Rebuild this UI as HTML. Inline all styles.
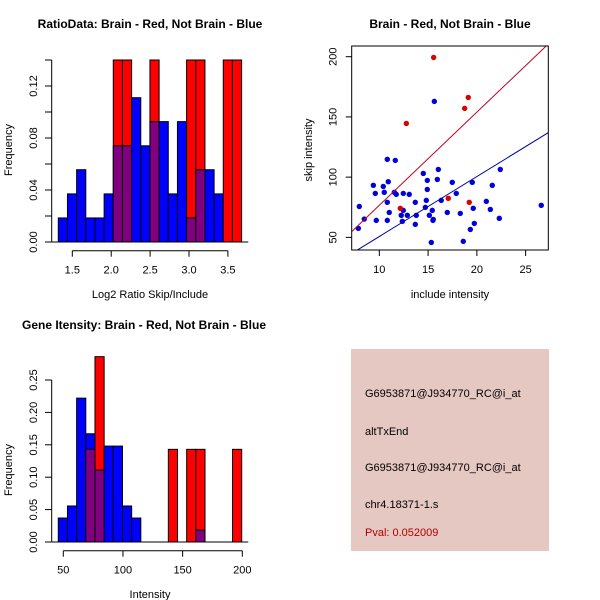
<!DOCTYPE html>
<html><head><meta charset="utf-8"><style>
body{margin:0;background:#fff;}
svg{display:block;font-family:"Liberation Sans",sans-serif;}
</style></head><body>
<svg id="c" width="600" height="600" xmlns="http://www.w3.org/2000/svg"></svg>
<script>
// ---- Data: ratio histogram (20 bins)
const ratioBinStart = 1.32;
const ratioBinWidth = 0.1178;
const ratioBlue = [0.0185,0.037,0.0556,0.0185,0.0185,0.037,0.074,0.074,0.111,0.074,0.0926,0.0926,0.037,0.0926,0.0185,0.0556,0.0556,0.037,0,0];
const ratioRed  = [0,0,0,0,0,0,0.14,0.14,0,0,0.14,0,0,0,0.14,0.14,0,0,0.14,0.14];
const ratioXTicks = [1.5,2.0,2.5,3.0,3.5];
const ratioXTickLabels = ["1.5","2.0","2.5","3.0","3.5"];
const ratioYTicks = [0,0.02,0.04,0.06,0.08,0.10,0.12,0.14];
const ratioYLabels = ["0.00","","0.04","","0.08","","0.12",""];
// ---- Data: scatter
const blueX = [7.95,8.46,7.85,9.39,9.59,9.69,10.41,10.51,10.82,10.92,10.82,11.02,10.82,11.64,11.54,11.74,12.46,12.25,12.46,12.36,12.87,13.07,13.69,13.79,13.69,14.51,14.92,14.92,14.82,14.72,15.13,15.43,15.53,15.5,15.33,15.64,16.05,15.95,16.35,17.48,17.89,16.97,18.3,18.61,19.53,19.63,19.33,19.74,21.58,20.97,21.38,22.3,22.4,26.6];
const blueY = [75.7,65.2,57.5,93.2,86.5,64.1,92.3,87.4,114.8,96.2,79.1,70.7,64.1,113.9,87.4,85.7,86.5,68.3,72.4,63.3,68.3,85.7,79.1,68.3,60.8,103.1,97.3,89.8,80.7,74.9,68.3,72.4,64.9,64.1,45.8,162.9,106.4,98.1,80.7,95.7,86.5,70.7,69.9,46.7,95.7,74.1,56.6,61.6,93.2,79.9,73.2,65.8,106.4,76.6];
const redX = [15.57,12.77,18.75,19.12,12.15,17.07,19.22];
const redY = [199.4,144.6,157.1,166.2,74.1,82.4,79.1];
const redLine = [-0.65,7.73];   // intercept, slope
const blueLine = [0.9,4.98];
const scXTicks = [10,15,20,25];
const scYTicks = [50,100,150,200];
// ---- Data: intensity histogram
const intBinStart = 45.8;
const intBinWidth = 7.685;
const intBlue = [0.037,0.0556,0.222,0.167,0.111,0.148,0.148,0.0556,0.037,0,0,0,0,0,0,0.0185,0,0,0,0];
const intRed  = [0,0,0,0.143,0.286,0,0,0,0,0,0,0,0.143,0,0.143,0.143,0,0,0,0.143];
const intXTicks = [50,100,150,200];
const intYTicks = [0,0.05,0.10,0.15,0.20,0.25];
const intYLabels = ["0.00","0.05","0.10","0.15","0.20","0.25"];

const S = document.getElementById('c');
const NS = 'http://www.w3.org/2000/svg';
function mk(tag, attrs, parent){
  const e = document.createElementNS(NS, tag);
  for (const k in attrs) e.setAttribute(k, attrs[k]);
  (parent||S).appendChild(e); return e;
}
function txt(x,y,s,opts,parent){
  const e = mk('text',{x:x,y:y,'font-size':opts.size||11,'text-anchor':opts.anchor||'middle',fill:opts.fill||'#000','font-weight':opts.bold?'bold':'normal'},parent);
  if(opts.rot) e.setAttribute('transform','rotate(-90 '+x+' '+y+')');
  e.textContent = s; return e;
}
const BLUE='#0000FF', RED='#FF0000', PURP='#800080';

function hist(name, binStart, binW, blue, red, xs, ys, xTicks, xLabels, yTicks, yLabels, yTop){
  const g = mk('g',{});
  
  
  for (let i=0;i<blue.length;i++){
    const x0 = xs(binStart+i*binW), x1 = xs(binStart+(i+1)*binW);
    const b = blue[i], r = red[i];
    const drawBar=(v,col,nm)=>{ if(v<=0) return;
      const rc = mk('rect',{x:x0,y:ys(v),width:x1-x0,height:ys(0)-ys(v),fill:col,stroke:'#000','stroke-width':1},g);
      
      
    };
    if (r>0 && b>0){
      if (r>=b){ drawBar(r,RED,'red-bar'); drawBar(b,PURP,'overlap-bar'); }
      else { drawBar(b,BLUE,'blue-bar'); drawBar(r,PURP,'overlap-bar'); }
    } else { drawBar(b,BLUE,'blue-bar'); drawBar(r,RED,'red-bar'); }
  }
  // baseline
  mk('line',{x1:51.7,x2:248.3,y1:ys(0),y2:ys(0),stroke:'#000','stroke-width':1},g);
  // y axis
  const ax = mk('g',{},g);
  
  
  mk('line',{x1:51.7,x2:51.7,y1:ys(yTicks[0]),y2:ys(yTicks[yTicks.length-1]),stroke:'#000'},ax);
  yTicks.forEach((t,i)=>{ mk('line',{x1:45,x2:51.7,y1:ys(t),y2:ys(t),stroke:'#000'},ax);
    if(yLabels[i]) txt(37,ys(t),yLabels[i],{rot:true,size:11},ax); });
  const xa = mk('g',{},g);
  
  
  const ay = ys(0)+8.7;
  mk('line',{x1:xs(xTicks[0]),x2:xs(xTicks[xTicks.length-1]),y1:ay,y2:ay,stroke:'#000'},xa);
  xTicks.forEach((t,i)=>{ mk('line',{x1:xs(t),x2:xs(t),y1:ay,y2:ay+6,stroke:'#000'},xa);
    txt(xs(t),ay+23,xLabels[i],{size:11},xa); });
}

// Panel 1
{
  const xs = v => 72.3 + (v-1.5)*77.8;
  const ys = v => 242 - v*1300;
  hist('ratio-histogram', ratioBinStart, ratioBinWidth, ratioBlue, ratioRed, xs, ys, ratioXTicks, ratioXTickLabels, ratioYTicks, ratioYLabels);
  const t=txt(150,28,'RatioData: Brain - Red, Not Brain - Blue',{bold:true,size:12});  
  const yl=txt(12,150,'Frequency',{rot:true,size:11});  
  const xl=txt(150,298,'Log2 Ratio Skip/Include',{size:11});  
}
// Panel 3
{
  const xs = v => 63.3 + (v-50)*1.1933;
  const ys = v => 542 - v*648;
  hist('intensity-histogram', intBinStart, intBinWidth, intBlue, intRed, xs, ys, intXTicks, intXTicks.map(String), intYTicks, intYLabels);
  const t=txt(144,329,'Gene Itensity: Brain - Red, Not Brain - Blue',{bold:true,size:12});  
  const yl=txt(12,470,'Frequency',{rot:true,size:11});  
  const xl=txt(150,598,'Intensity',{size:11});  
}
// Panel 2 scatter
{
  const L=351.7,R=548.3,T=46,B=250;
  const xs = v => 379.3 + (v-10)*9.756;
  const ys = v => 56.7 + (200-v)*1.2044;
  const g = mk('g',{});
  
  
  mk('clipPath',{id:'clp'},g); mk('rect',{x:L,y:T,width:R-L,height:B-T},g.lastChild);
  const pts = mk('g',{'clip-path':'url(#clp)'},g);
  blueX.forEach((x,i)=>{ const c=mk('circle',{cx:xs(x),cy:ys(blueY[i]),r:2.7,fill:'#0000DD'},pts);
      });
  redX.forEach((x,i)=>{ const c=mk('circle',{cx:xs(x),cy:ys(redY[i]),r:2.7,fill:'#DD0000'},pts);
      });
  const x0=5, x1=30;
  const rl=mk('line',{x1:xs(x0),y1:ys(redLine[0]+redLine[1]*x0),x2:xs(x1),y2:ys(redLine[0]+redLine[1]*x1),stroke:'#C00020','stroke-width':1},pts);
   
  const bl=mk('line',{x1:xs(x0),y1:ys(blueLine[0]+blueLine[1]*x0),x2:xs(x1),y2:ys(blueLine[0]+blueLine[1]*x1),stroke:'#0000AA','stroke-width':1},pts);
   
  const box=mk('rect',{x:L,y:T,width:R-L,height:B-T,fill:'none',stroke:'#000'},g);
   
  scXTicks.forEach(t=>{ mk('line',{x1:xs(t),x2:xs(t),y1:B,y2:B+6,stroke:'#000'},g); txt(xs(t),B+23,String(t),{size:11},g); });
  scYTicks.forEach(t=>{ mk('line',{x1:L-6,x2:L,y1:ys(t),y2:ys(t),stroke:'#000'},g); txt(L-15,ys(t),String(t),{rot:true,size:11},g); });
  const t=txt(450,28,'Brain - Red, Not Brain - Blue',{bold:true,size:12});  
  const yl=txt(312,150,'skip intensity',{rot:true,size:11});  
  const xl=txt(450,298,'include intensity',{size:11});  
}
// Panel 4 info box
{
  const g = mk('g',{});
  
  
  mk('rect',{x:351,y:349,width:198,height:202,fill:'#E6C8C2'},g);
  const lines = [['G6953871@J934770_RC@i_at',397,'#000'],['altTxEnd',435,'#000'],['G6953871@J934770_RC@i_at',471,'#000'],['chr4.18371-1.s',508,'#000'],['Pval: 0.052009',536,'#B00000']];
  lines.forEach(l=>{ const e=txt(365,l[1],l[0],{anchor:'start',size:11,fill:l[2]},g);
      });
}
</script>
</body></html>
